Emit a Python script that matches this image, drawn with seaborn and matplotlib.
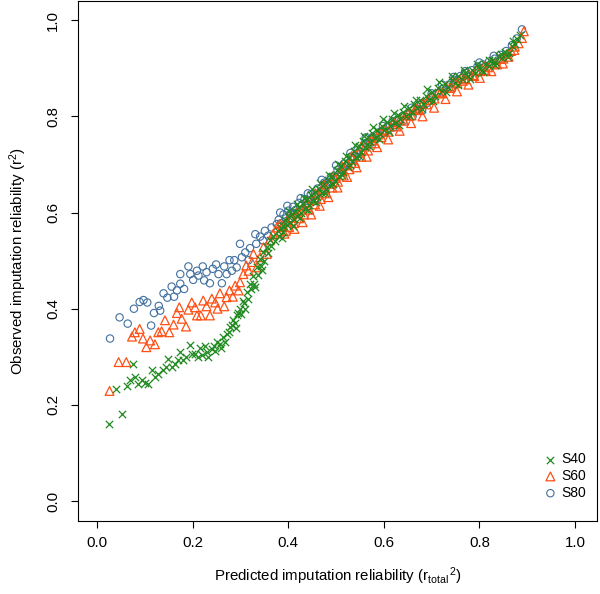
import numpy as np
import pandas as pd
import matplotlib
matplotlib.use('Agg')
import matplotlib.pyplot as plt
import seaborn as sns

# predicted (r_total^2) vs observed (r^2) imputation reliability
s40_x = [0.024, 0.052, 0.040, 0.062, 0.075, 0.069, 0.079, 0.086, 0.094, 0.100,
         0.107, 0.114, 0.121, 0.128, 0.137, 0.144, 0.149, 0.156, 0.163, 0.170,
         0.174, 0.180, 0.187, 0.195, 0.198, 0.205, 0.212, 0.219, 0.226, 0.233,
         0.240, 0.247, 0.250, 0.257, 0.264, 0.271, 0.278, 0.285, 0.292, 0.299,
         0.306, 0.313, 0.320, 0.327, 0.334, 0.341, 0.348, 0.355, 0.362, 0.369,
         0.379, 0.390,
         0.268, 0.276, 0.282, 0.289, 0.295, 0.301, 0.308, 0.315, 0.322, 0.329,
         0.336, 0.343, 0.350, 0.357, 0.364, 0.372, 0.380, 0.386, 0.215, 0.230,
         0.245, 0.260, 0.290, 0.310, 0.330, 0.345,
         0.385, 0.390, 0.393, 0.397, 0.400, 0.404, 0.408, 0.411, 0.415, 0.419,
         0.423, 0.427, 0.431, 0.435, 0.440, 0.444, 0.448, 0.452, 0.456, 0.461,
         0.465, 0.470, 0.474, 0.479, 0.483, 0.488, 0.492, 0.497, 0.501, 0.506,
         0.510, 0.515, 0.519, 0.524, 0.528, 0.533, 0.537, 0.542, 0.547, 0.552,
         0.556, 0.561, 0.566, 0.571, 0.576, 0.581, 0.586, 0.591, 0.596, 0.601,
         0.607, 0.612, 0.618, 0.623, 0.629, 0.634, 0.640, 0.646, 0.652, 0.658,
         0.664, 0.670, 0.676, 0.682, 0.688, 0.694, 0.700, 0.707, 0.714, 0.721,
         0.728, 0.735, 0.742, 0.749, 0.756, 0.763, 0.770, 0.777, 0.784, 0.791,
         0.798, 0.805, 0.812, 0.819, 0.826, 0.833, 0.840, 0.847, 0.854, 0.861,
         0.868, 0.874, 0.879, 0.884,
         0.402, 0.409, 0.418, 0.425, 0.433, 0.441, 0.450, 0.458, 0.467, 0.476,
         0.485, 0.494, 0.503, 0.512, 0.521, 0.530, 0.539, 0.549, 0.558, 0.568,
         0.578, 0.589, 0.599, 0.610, 0.621, 0.632, 0.643, 0.655, 0.667, 0.679,
         0.691, 0.703, 0.716, 0.729, 0.742, 0.755, 0.768, 0.781, 0.794, 0.807,
         0.820, 0.833, 0.846, 0.859, 0.871]
s40_y = [0.161, 0.182, 0.234, 0.239, 0.284, 0.252, 0.258, 0.244, 0.251, 0.245,
         0.243, 0.273, 0.258, 0.265, 0.272, 0.279, 0.296, 0.279, 0.286, 0.294,
         0.310, 0.293, 0.299, 0.324, 0.306, 0.306, 0.299, 0.303, 0.322, 0.299,
         0.317, 0.313, 0.331, 0.327, 0.341, 0.348, 0.362, 0.376, 0.386, 0.400,
         0.417, 0.434, 0.452, 0.469, 0.486, 0.504, 0.517, 0.528, 0.542, 0.552,
         0.562, 0.573,
         0.330, 0.352, 0.366, 0.370, 0.392, 0.388, 0.412, 0.420, 0.441, 0.452,
         0.470, 0.488, 0.500, 0.515, 0.530, 0.540, 0.552, 0.548, 0.318, 0.310,
         0.322, 0.318, 0.360, 0.400, 0.445, 0.480,
         0.568, 0.560, 0.585, 0.575, 0.592, 0.580, 0.598, 0.586, 0.604, 0.592,
         0.612, 0.600, 0.618, 0.607, 0.628, 0.615, 0.636, 0.624, 0.643, 0.632,
         0.650, 0.640, 0.660, 0.648, 0.668, 0.657, 0.677, 0.666, 0.688, 0.676,
         0.697, 0.685, 0.707, 0.695, 0.716, 0.705, 0.727, 0.716, 0.738, 0.726,
         0.748, 0.737, 0.757, 0.746, 0.765, 0.755, 0.772, 0.763, 0.781, 0.771,
         0.788, 0.779, 0.795, 0.786, 0.802, 0.794, 0.810, 0.801, 0.818, 0.809,
         0.825, 0.817, 0.834, 0.826, 0.842, 0.835, 0.851, 0.843, 0.860, 0.852,
         0.868, 0.861, 0.876, 0.869, 0.884, 0.877, 0.890, 0.884, 0.896, 0.891,
         0.903, 0.897, 0.910, 0.905, 0.917, 0.913, 0.925, 0.921, 0.934, 0.931,
         0.946, 0.950, 0.962, 0.970,
         0.603, 0.572, 0.618, 0.588, 0.630, 0.606, 0.650, 0.622, 0.662, 0.640,
         0.678, 0.660, 0.700, 0.678, 0.718, 0.698, 0.740, 0.718, 0.760, 0.738,
         0.778, 0.752, 0.794, 0.768, 0.808, 0.783, 0.822, 0.800, 0.834, 0.815,
         0.856, 0.832, 0.872, 0.850, 0.885, 0.866, 0.896, 0.878, 0.909, 0.893,
         0.918, 0.906, 0.930, 0.924, 0.956]

s60_x = [0.026, 0.045, 0.061, 0.073, 0.089, 0.079, 0.096, 0.103, 0.111, 0.121,
         0.128, 0.135, 0.142, 0.151, 0.160, 0.167, 0.172, 0.177, 0.186, 0.191,
         0.198, 0.205, 0.209, 0.217, 0.222, 0.229, 0.236, 0.240, 0.247, 0.252,
         0.257, 0.266, 0.271, 0.277, 0.284, 0.289, 0.296, 0.299, 0.306, 0.312,
         0.317, 0.324, 0.327, 0.334, 0.341, 0.348, 0.355, 0.361, 0.368, 0.376,
         0.383,
         0.383, 0.388, 0.392, 0.397, 0.402, 0.407, 0.412, 0.417, 0.422, 0.427,
         0.433, 0.438, 0.444, 0.450, 0.456, 0.462, 0.468, 0.474, 0.480, 0.486,
         0.492, 0.498, 0.504, 0.510, 0.516, 0.522, 0.528, 0.534, 0.540, 0.546,
         0.553, 0.560, 0.567, 0.574, 0.581, 0.588, 0.595, 0.602, 0.610, 0.618,
         0.626, 0.634, 0.642, 0.650, 0.658, 0.666, 0.674, 0.682, 0.690, 0.698,
         0.706, 0.714, 0.722, 0.730, 0.738, 0.746, 0.754, 0.762, 0.770, 0.778,
         0.786, 0.794, 0.802, 0.810, 0.818, 0.826, 0.834, 0.842, 0.850, 0.858,
         0.866, 0.874, 0.882, 0.889, 0.893,
         0.395, 0.404, 0.413, 0.421, 0.430, 0.439, 0.448, 0.457, 0.466, 0.475,
         0.484, 0.494, 0.503, 0.513, 0.523, 0.533, 0.543, 0.553, 0.564, 0.575,
         0.586, 0.597, 0.609, 0.621, 0.633, 0.645, 0.657, 0.669, 0.681, 0.693,
         0.705, 0.717, 0.729, 0.741, 0.753, 0.765, 0.777, 0.789, 0.801, 0.813,
         0.825, 0.837, 0.849, 0.861, 0.873]
s60_y = [0.229, 0.289, 0.289, 0.342, 0.358, 0.351, 0.338, 0.320, 0.334, 0.326,
         0.351, 0.353, 0.376, 0.351, 0.367, 0.391, 0.403, 0.379, 0.363, 0.398,
         0.413, 0.403, 0.386, 0.386, 0.417, 0.405, 0.386, 0.421, 0.413, 0.400,
         0.432, 0.405, 0.424, 0.438, 0.425, 0.448, 0.438, 0.455, 0.472, 0.490,
         0.479, 0.497, 0.514, 0.486, 0.507, 0.528, 0.514, 0.542, 0.555, 0.569,
         0.576,
         0.560, 0.572, 0.556, 0.582, 0.570, 0.590, 0.578, 0.598, 0.588, 0.606,
         0.596, 0.616, 0.606, 0.626, 0.617, 0.637, 0.628, 0.648, 0.640, 0.660,
         0.652, 0.672, 0.664, 0.686, 0.677, 0.698, 0.690, 0.711, 0.703, 0.724,
         0.716, 0.737, 0.729, 0.750, 0.744, 0.762, 0.757, 0.772, 0.768, 0.784,
         0.779, 0.795, 0.791, 0.806, 0.802, 0.816, 0.813, 0.828, 0.825, 0.840,
         0.837, 0.851, 0.848, 0.862, 0.859, 0.872, 0.869, 0.880, 0.877, 0.888,
         0.886, 0.896, 0.894, 0.904, 0.902, 0.912, 0.910, 0.920, 0.920, 0.930,
         0.936, 0.945, 0.952, 0.963, 0.977,
         0.562, 0.590, 0.566, 0.604, 0.580, 0.622, 0.596, 0.640, 0.614, 0.658,
         0.632, 0.676, 0.652, 0.696, 0.674, 0.718, 0.694, 0.738, 0.716, 0.756,
         0.736, 0.772, 0.752, 0.788, 0.770, 0.802, 0.786, 0.816, 0.800, 0.834,
         0.818, 0.848, 0.836, 0.862, 0.852, 0.874, 0.866, 0.884, 0.880, 0.896,
         0.894, 0.908, 0.910, 0.924, 0.938]

s80_x = [0.027, 0.047, 0.064, 0.077, 0.089, 0.097, 0.105, 0.113, 0.119, 0.129,
         0.132, 0.139, 0.147, 0.156, 0.161, 0.167, 0.174, 0.182, 0.174, 0.191,
         0.195, 0.201, 0.209, 0.212, 0.221, 0.224, 0.229, 0.236, 0.242, 0.249,
         0.254, 0.261, 0.266, 0.271, 0.277, 0.282, 0.287, 0.292, 0.299, 0.303,
         0.310, 0.317, 0.320, 0.331, 0.333, 0.341, 0.347, 0.351, 0.358, 0.365,
         0.376,
         0.380, 0.385, 0.390, 0.395, 0.400, 0.405, 0.410, 0.416, 0.422, 0.428,
         0.434, 0.440, 0.447, 0.454, 0.461, 0.468, 0.475, 0.482, 0.489, 0.496,
         0.503, 0.510, 0.517, 0.524, 0.531, 0.538, 0.545, 0.552, 0.560, 0.568,
         0.576, 0.584, 0.592, 0.600, 0.610, 0.620, 0.630, 0.640, 0.650, 0.660,
         0.670, 0.680, 0.690, 0.700, 0.712, 0.724, 0.736, 0.748, 0.760, 0.772,
         0.784, 0.796, 0.808, 0.820, 0.832, 0.844, 0.856, 0.868, 0.878, 0.889,
         0.383, 0.398, 0.413, 0.426, 0.441, 0.456, 0.470, 0.486, 0.500, 0.515,
         0.530, 0.545, 0.562, 0.580, 0.598, 0.618, 0.638, 0.658, 0.678, 0.700,
         0.722, 0.746, 0.770, 0.800, 0.830]
s80_y = [0.338, 0.382, 0.369, 0.400, 0.414, 0.418, 0.413, 0.365, 0.391, 0.406,
         0.396, 0.432, 0.423, 0.446, 0.425, 0.438, 0.452, 0.441, 0.472, 0.488,
         0.472, 0.460, 0.479, 0.469, 0.488, 0.459, 0.476, 0.453, 0.483, 0.492,
         0.472, 0.453, 0.488, 0.472, 0.501, 0.479, 0.501, 0.486, 0.535, 0.507,
         0.517, 0.501, 0.526, 0.555, 0.535, 0.550, 0.542, 0.562, 0.552, 0.569,
         0.576,
         0.585, 0.578, 0.596, 0.588, 0.604, 0.598, 0.612, 0.606, 0.620, 0.614,
         0.628, 0.624, 0.638, 0.634, 0.650, 0.645, 0.662, 0.657, 0.674, 0.669,
         0.688, 0.684, 0.702, 0.698, 0.716, 0.712, 0.730, 0.726, 0.744, 0.740,
         0.757, 0.754, 0.768, 0.766, 0.780, 0.777, 0.792, 0.790, 0.804, 0.800,
         0.816, 0.812, 0.828, 0.840, 0.848, 0.858, 0.866, 0.876, 0.884, 0.890,
         0.896, 0.904, 0.908, 0.914, 0.920, 0.928, 0.936, 0.948, 0.962, 0.981,
         0.600, 0.614, 0.598, 0.630, 0.640, 0.624, 0.668, 0.664, 0.698, 0.690,
         0.724, 0.716, 0.756, 0.748, 0.780, 0.790, 0.800, 0.818, 0.826, 0.848,
         0.866, 0.882, 0.894, 0.912, 0.926]

ticks = [0.0, 0.2, 0.4, 0.6, 0.8, 1.0]
tick_labels = ['0.0', '0.2', '0.4', '0.6', '0.8', '1.0']

sns.set_style('ticks')
plt.rcParams['font.family'] = ['Liberation Sans', 'DejaVu Sans']
plt.rcParams['mathtext.fontset'] = 'custom'
plt.rcParams['mathtext.rm'] = 'Liberation Sans'
plt.rcParams['mathtext.it'] = 'Liberation Sans'
plt.rcParams['text.color'] = 'black'
plt.rcParams['axes.labelcolor'] = 'black'

fig = plt.figure(figsize=(6, 5.94), dpi=100)
ax = fig.add_axes([78 / 600, 73 / 594, 519 / 600, 520 / 594])

green = '#1f8a1f'
orange = '#ff4f14'
blue = '#41709f'

sns.scatterplot(x=s80_x, y=s80_y, ax=ax, marker='o', s=28, facecolor='none',
                edgecolor=blue, linewidth=0.8, label='S80')
sns.scatterplot(x=s60_x, y=s60_y, ax=ax, marker='^', s=40, facecolor='none',
                edgecolor=orange, linewidth=0.9, label='S60')
sns.scatterplot(x=s40_x, y=s40_y, ax=ax, marker='x', s=28, color=green,
                linewidth=0.9, label='S40')

ax.set_xlim(-0.04, 1.046)
ax.set_ylim(-0.0415, 1.04)
ax.set_xticks(ticks)
ax.set_xticklabels(tick_labels)
ax.set_yticks(ticks)
ax.set_yticklabels(tick_labels, rotation=90, va='center')
ax.tick_params(direction='out', length=5, width=0.8, labelsize=10.8,
               color='black', labelcolor='black')
ax.tick_params(axis='x', pad=6)
ax.tick_params(axis='y', pad=8)
for sp in ax.spines.values():
    sp.set_visible(True)
    sp.set_color('black')
    sp.set_linewidth(0.8)

ax.set_xlabel(r'Predicted imputation reliability ($\mathregular{r_{total}{}^{\,2}}$)',
              fontsize=10.8, labelpad=11)
ax.set_ylabel(r'Observed imputation reliability ($\mathregular{r^{2}}$)',
              fontsize=10.8, labelpad=12)

h, l = ax.get_legend_handles_labels()
order = [l.index('S40'), l.index('S60'), l.index('S80')]
ax.legend([h[i] for i in order], [l[i] for i in order], loc='lower right',
          bbox_to_anchor=(0.99, 0.03), frameon=False, fontsize=10,
          handletextpad=0.3, labelspacing=0.2, borderaxespad=0,
          handlelength=1.0)

fig.savefig('out.png', dpi=100)
